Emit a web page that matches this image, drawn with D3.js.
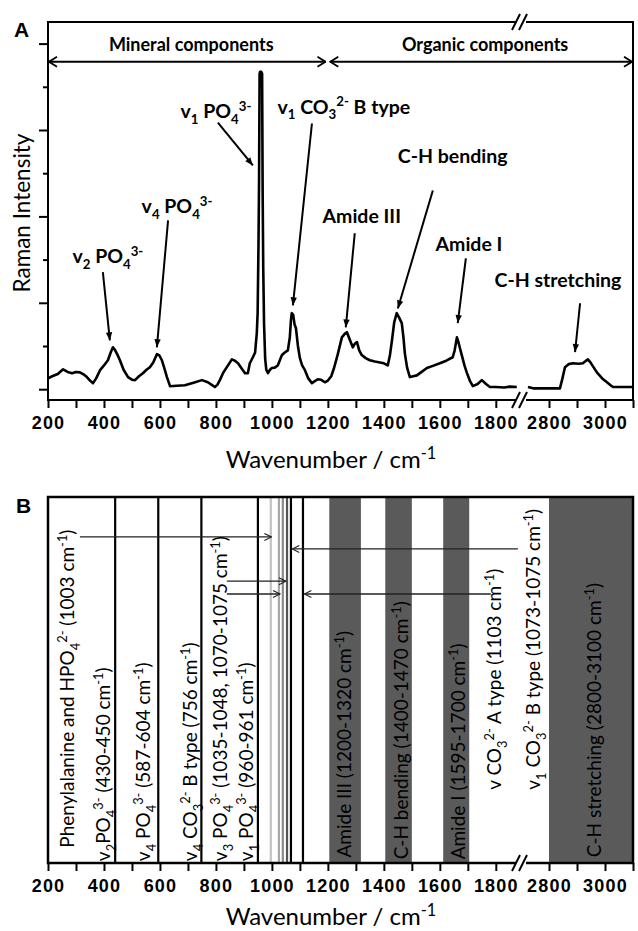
<!DOCTYPE html>
<html>
<head>
<meta charset="utf-8">
<script src="https://cdn.jsdelivr.net/npm/d3@7"></script>
<style>
  body { margin: 0; background: #fff; }
  svg { display: block; }
  text { font-family: Lato, "Open Sans", sans-serif; fill: #000; }
  .tick text { font-family: "Liberation Sans", Arial, sans-serif; font-weight: bold; font-size: 18px; letter-spacing: 1.2px; }
  .panel-tag { font-family: "Liberation Sans", Arial, sans-serif; font-weight: bold; font-size: 21px; }
  .note { font-weight: bold; font-size: 19.5px; }
  .band-label { font-size: 19px; }
  .axis-title { font-size: 24px; }
</style>
</head>
<body>
<div id="chart"></div>
<script>
// Raman spectrum (intensity in y-tick units), split at the axis break.
const waveLow = [200, 215, 235, 254, 270, 286, 300, 314, 330, 339, 350, 361, 372, 386, 400, 414, 424, 432, 440, 448,
  457, 470, 486, 500, 511, 525, 539, 552, 564, 576, 589, 598, 607, 615, 625, 636, 660, 689, 720, 750,
  771, 785, 796, 805, 814, 826, 839, 857, 868, 879, 892, 904, 914, 921, 932, 940, 946, 949, 952, 954,
  956, 958, 962, 965, 967, 969, 972, 976, 980, 986, 993, 1000, 1010, 1021, 1030, 1036, 1046, 1057, 1064, 1068,
  1071, 1076, 1081, 1086, 1093, 1100, 1108, 1118, 1130, 1143, 1152, 1164, 1175, 1189, 1200, 1212, 1222, 1235, 1250, 1260,
  1268, 1278, 1289, 1296, 1304, 1312, 1321, 1335, 1350, 1368, 1386, 1400, 1414, 1422, 1429, 1437, 1446, 1455, 1464, 1470,
  1475, 1483, 1493, 1505, 1518, 1535, 1554, 1575, 1600, 1623, 1646, 1653, 1661, 1666, 1671, 1680, 1688, 1696, 1707, 1718,
  1735, 1750, 1765, 1779, 1800, 1830, 1850, 1875];
const ramanLow = [0.25, 0.30, 0.35, 0.46, 0.40, 0.37, 0.40, 0.39, 0.33, 0.28, 0.20, 0.14, 0.25, 0.44, 0.55, 0.67, 0.85, 0.97, 0.90, 0.80,
  0.67, 0.45, 0.28, 0.22, 0.21, 0.30, 0.37, 0.45, 0.51, 0.62, 0.81, 0.78, 0.67, 0.50, 0.28, 0.07, 0.08, 0.09, 0.15, 0.21,
  0.16, 0.10, 0.05, 0.10, 0.21, 0.38, 0.51, 0.69, 0.66, 0.60, 0.48, 0.37, 0.37, 0.60, 0.74, 0.85, 1.30, 1.76, 3.30, 4.76,
  7.30, 7.35, 7.35, 7.30, 4.50, 2.82, 1.50, 0.70, 0.45, 0.37, 0.45, 0.49, 0.50, 0.55, 0.70, 0.79, 0.85, 0.90, 1.20, 1.60,
  1.76, 1.72, 1.50, 1.41, 1.00, 0.72, 0.55, 0.44, 0.25, 0.14, 0.18, 0.23, 0.22, 0.16, 0.20, 0.30, 0.49, 0.80, 1.20, 1.28,
  1.32, 1.15, 0.97, 1.05, 1.09, 0.90, 0.79, 0.72, 0.67, 0.64, 0.62, 0.60, 0.55, 0.80, 1.13, 1.55, 1.76, 1.65, 1.53, 1.20,
  0.83, 0.50, 0.28, 0.30, 0.32, 0.40, 0.49, 0.54, 0.60, 0.66, 0.74, 0.90, 1.20, 1.10, 0.97, 0.75, 0.55, 0.39, 0.20, 0.07,
  0.12, 0.21, 0.12, 0.05, 0.05, 0.04, 0.06, 0.05];
const waveHigh = [2725, 2743, 2790, 2839, 2848, 2857, 2870, 2886, 2905, 2921, 2930, 2939, 2948, 2960, 2971, 2990, 3007, 3020, 3029, 3100];
const ramanHigh = [0.05, 0.02, 0.02, 0.02, 0.25, 0.51, 0.58, 0.60, 0.59, 0.60, 0.65, 0.69, 0.62, 0.50, 0.39, 0.25, 0.16, 0.09, 0.05, 0.05];

// Axis: wavenumber scale is broken between 1890 and 2700 cm-1.
const xBreak = [1890, 2700];
const xTicks = [200, 300, 400, 500, 600, 700, 800, 900, 1000, 1100, 1200, 1300, 1400, 1500, 1600, 1700, 1800, 2800, 2900, 3000, 3100];
const xTickLabels = [200, 400, 600, 800, 1000, 1200, 1400, 1600, 1800, 2800, 3000];
const yTicks = [0, 1, 2, 3, 4, 5, 6, 7, 8];

// Panel A peak annotations: label, label anchor, arrow start/end (wavenumber, intensity).
const peakNames = [
  [["v"], ["2", "sub"], [" PO"], ["4", "sub"], ["3-", "sup"]],
  [["v"], ["4", "sub"], [" PO"], ["4", "sub"], ["3-", "sup"]],
  [["v"], ["1", "sub"], [" PO"], ["4", "sub"], ["3-", "sup"]],
  [["v"], ["1", "sub"], [" CO"], ["3", "sub"], ["2-", "sup"], [" B type"]],
  [["Amide III"]],
  [["C-H bending"]],
  [["Amide I"]],
  [["C-H stretching"]],
];
const peakLabelAt = [[414, 2.91], [661, 4.07], [800, 6.27], [1257, 6.38], [1321, 3.84], [1646, 5.23], [1704, 3.21], [2832, 2.36]];
const peakArrowFrom = [[396, 2.71], [629, 3.91], [807, 6.17], [1143, 6.15], [1296, 3.61], [1575, 4.6], [1693, 3.03], [2911, 1.99]];
const peakArrowTo = [[421, 1.13], [589, 0.97], [932, 5.18], [1075, 1.94], [1264, 1.43], [1450, 1.87], [1664, 1.53], [2893, 0.86]];

// Mineral / organic ranges across the top of panel A.
const regionNames = ["Mineral components", "Organic components"];
const regionFrom = [200, 1205];
const regionTo = [1195, 3100];

// Panel B: assignment lines and bands.
const lineWave = [440, 594, 748, 950, 996, 1025, 1039, 1054, 1068, 1111];
const lineShade = ["#000", "#000", "#000", "#000", "#c2c2c2", "#a8a8a8", "#8a8a8a", "#555", "#000", "#000"];
const bandStart = [1205, 1405, 1612, 2800];
const bandEnd = [1318, 1500, 1705, 3100];

const bandNames = [
  [["Phenylalanine and HPO"], ["4", "sub"], ["2-", "sup"], [" (1003 cm"], ["-1", "sup"], [")"]],
  [["v"], ["2", "sub"], ["PO"], ["4", "sub"], ["3-", "sup"], [" (430-450 cm"], ["-1", "sup"], [")"]],
  [["v"], ["4", "sub"], [" PO"], ["4", "sub"], ["3-", "sup"], [" (587-604 cm"], ["-1", "sup"], [")"]],
  [["v"], ["4", "sub"], [" CO"], ["3", "sub"], ["2-", "sup"], [" B type (756 cm"], ["-1", "sup"], [")"]],
  [["v"], ["3", "sub"], [" PO"], ["4", "sub"], ["3-", "sup"], [" (1035-1048, 1070-1075 cm"], ["-1", "sup"], [")"]],
  [["v"], ["1", "sub"], [" PO"], ["4", "sub"], ["3-", "sup"], [" (960-961 cm"], ["-1", "sup"], [")"]],
  [["Amide III (1200-1320 cm"], ["-1", "sup"], [")"]],
  [["C-H bending (1400-1470 cm"], ["-1", "sup"], [")"]],
  [["Amide I (1595-1700 cm"], ["-1", "sup"], [")"]],
  [["v CO"], ["3", "sub"], ["2-", "sup"], [" A type (1103 cm"], ["-1", "sup"], [")"]],
  [["v"], ["1", "sub"], [" CO"], ["3", "sub"], ["2-", "sup"], [" B type (1073-1075 cm"], ["-1", "sup"], [")"]],
  [["C-H stretching (2800-3100 cm"], ["-1", "sup"], [")"]],
];
const bandNameWave = [293, 421, 564, 732, 839, 932, 1282, 1486, 1690, 1818, 2768, 2986];
const bandNameFoot = [4.2, 0.5, 0.5, 0.5, 0.5, 0.5, 1.5, 1.0, 1.0, 20, 20, 1.6];

// Panel B arrows (wavenumber from -> to, height in panel %).
const bArrowFrom = [314, 1879, 839, 839, 1782];
const bArrowTo = [998, 1073, 1050, 1029, 1116];
const bArrowLevel = [89.1, 85.8, 77.0, 73.5, 73.5];

const W = 638, H = 931;
const X0 = 48, X1 = 633, XB = 521;
const A_TOP = 22, A_BOT = 400, B_TOP = 497, B_BOT = 863;

const svg = d3.select("#chart").append("svg").attr("width", W).attr("height", H);

const x = d3.scaleLinear().domain([200, xBreak[0], xBreak[1], 3100]).range([X0, XB, XB, X1]);
const yA = d3.scaleLinear().domain([-0.25, 8.5]).range([A_BOT, A_TOP]);
const yB = d3.scaleLinear().domain([0, 100]).range([B_BOT, B_TOP]);

const defs = svg.append("defs");
defs.append("marker").attr("id", "head").attr("viewBox", "0 -5 10 10")
  .attr("refX", 10).attr("refY", 0).attr("markerWidth", 10).attr("markerHeight", 8)
  .attr("markerUnits", "userSpaceOnUse").attr("orient", "auto")
  .append("path").attr("d", "M0,-4L10,0L0,4Z").attr("fill", "#000");
defs.append("marker").attr("id", "chev").attr("viewBox", "-1 -6 10 12")
  .attr("refX", 8).attr("refY", 0).attr("markerWidth", 10).attr("markerHeight", 12)
  .attr("markerUnits", "userSpaceOnUse").attr("orient", "auto-start-reverse")
  .append("path").attr("d", "M0,-5L8,0L0,5").attr("fill", "none").attr("stroke", "#000").attr("stroke-width", 1.8);
defs.append("marker").attr("id", "thin").attr("viewBox", "-1 -5 9 10")
  .attr("refX", 7).attr("refY", 0).attr("markerWidth", 9).attr("markerHeight", 10)
  .attr("markerUnits", "userSpaceOnUse").attr("orient", "auto")
  .append("path").attr("d", "M0,-3.5L7,0L0,3.5").attr("fill", "none").attr("stroke", "#222").attr("stroke-width", 1.1);

// text with sub/superscript pieces
function rich(sel, parts, size) {
  let shift = 0;
  parts.forEach(([t, kind]) => {
    const to = kind === "sub" ? size * 0.3 : kind === "sup" ? -size * 0.38 : 0;
    sel.append("tspan").attr("dy", to - shift)
      .attr("font-size", kind ? size * 0.68 : size).text(t);
    shift = to;
  });
}

function bottomAxis(yPix) {
  const g = svg.append("g").attr("transform", `translate(0,${yPix})`)
    .call(d3.axisBottom(x).tickValues(xTicks)
      .tickFormat(d => xTickLabels.includes(d) ? d : "")
      .tickSize(8).tickPadding(8));
  g.select(".domain").remove();
  g.selectAll(".tick line").attr("stroke", "#000").attr("stroke-width", 2);
  return g;
}

function breakMark(yPix) {
  svg.append("rect").attr("x", XB - 5).attr("y", yPix - 3).attr("width", 10).attr("height", 6).attr("fill", "#fff");
  [-4, 3].forEach(dx => {
    svg.append("line").attr("x1", XB + dx - 5).attr("y1", yPix + 8).attr("x2", XB + dx + 3).attr("y2", yPix - 8)
      .attr("stroke", "#000").attr("stroke-width", 2);
  });
}

// ---------- Panel A ----------
svg.append("text").attr("class", "panel-tag").attr("x", 14).attr("y", 37).text("A");

const yAxis = svg.append("g").attr("transform", `translate(${X0},0)`)
  .call(d3.axisLeft(yA).tickValues(yTicks).tickFormat(""));
yAxis.select(".domain").remove();
yAxis.selectAll(".tick line").attr("stroke-width", 2).attr("x2", d => d % 2 === 0 ? -9 : -5);

bottomAxis(A_BOT);

svg.append("rect").attr("x", X0).attr("y", A_TOP).attr("width", X1 - X0).attr("height", A_BOT - A_TOP)
  .attr("fill", "none").attr("stroke", "#000").attr("stroke-width", 2);
breakMark(A_TOP);
breakMark(A_BOT);

const spectrum = d3.line().x(d => x(d[0])).y(d => yA(d[1]));
[[waveLow, ramanLow], [waveHigh, ramanHigh]].forEach(([w, r]) => {
  svg.append("path").attr("d", spectrum(w.map((v, i) => [v, r[i]])))
    .attr("fill", "none").attr("stroke", "#000").attr("stroke-width", 2.6).attr("stroke-linejoin", "round");
});

regionNames.forEach((name, i) => {
  svg.append("line").attr("x1", x(regionFrom[i]) + 1).attr("x2", x(regionTo[i]) - 1)
    .attr("y1", yA(7.58)).attr("y2", yA(7.58)).attr("stroke", "#000").attr("stroke-width", 2)
    .attr("marker-start", "url(#chev)").attr("marker-end", "url(#chev)");
  const mid = (x(regionFrom[i]) + x(regionTo[i])) / 2;
  svg.append("text").attr("class", "note").attr("x", mid + 4).attr("y", yA(7.84))
    .attr("text-anchor", "middle").style("font-size", "18px").text(name);
});

peakNames.forEach((parts, i) => {
  svg.append("line")
    .attr("x1", x(peakArrowFrom[i][0])).attr("y1", yA(peakArrowFrom[i][1]))
    .attr("x2", x(peakArrowTo[i][0])).attr("y2", yA(peakArrowTo[i][1]))
    .attr("stroke", "#000").attr("stroke-width", 2).attr("marker-end", "url(#head)");
  const t = svg.append("text").attr("class", "note").attr("text-anchor", "middle")
    .attr("x", x(peakLabelAt[i][0])).attr("y", yA(peakLabelAt[i][1]));
  rich(t, parts, 19.5);
});

svg.append("text").attr("transform", `translate(30,${(A_TOP + A_BOT) / 2 + 2}) rotate(-90)`)
  .attr("text-anchor", "middle").style("font-size", "22.5px").text("Raman Intensity");

const titleA = svg.append("text").attr("class", "axis-title").attr("text-anchor", "middle")
  .attr("x", 331).attr("y", A_BOT + 68);
rich(titleA, [["Wavenumber / cm"], ["-1", "sup"]], 24);

// ---------- Panel B ----------
svg.append("text").attr("class", "panel-tag").attr("x", 16).attr("y", 513).text("B");

svg.append("g").selectAll("rect").data(bandStart).enter().append("rect")
  .attr("x", d => x(d)).attr("width", (d, i) => x(bandEnd[i]) - x(d))
  .attr("y", B_TOP).attr("height", B_BOT - B_TOP).attr("fill", "#5a5a5a");

svg.append("g").selectAll("line").data(lineWave).enter().append("line")
  .attr("x1", d => x(d)).attr("x2", d => x(d)).attr("y1", B_TOP).attr("y2", B_BOT)
  .attr("stroke", (d, i) => lineShade[i]).attr("stroke-width", 2.2);

bArrowFrom.forEach((w, i) => {
  svg.append("line").attr("x1", x(w)).attr("x2", x(bArrowTo[i]))
    .attr("y1", yB(bArrowLevel[i])).attr("y2", yB(bArrowLevel[i]))
    .attr("stroke", "#222").attr("stroke-width", 1.3).attr("marker-end", "url(#thin)");
});

bandNames.forEach((parts, i) => {
  const t = svg.append("text").attr("class", "band-label")
    .attr("transform", `translate(${x(bandNameWave[i])},${yB(bandNameFoot[i])}) rotate(-90)`);
  rich(t, parts, 19);
});

bottomAxis(B_BOT);
svg.append("rect").attr("x", X0).attr("y", B_TOP).attr("width", X1 - X0).attr("height", B_BOT - B_TOP)
  .attr("fill", "none").attr("stroke", "#000").attr("stroke-width", 2.5);
breakMark(B_BOT);

const titleB = svg.append("text").attr("class", "axis-title").attr("text-anchor", "middle")
  .attr("x", 331).attr("y", B_BOT + 62);
rich(titleB, [["Wavenumber / cm"], ["-1", "sup"]], 24);
</script>
</body>
</html>
